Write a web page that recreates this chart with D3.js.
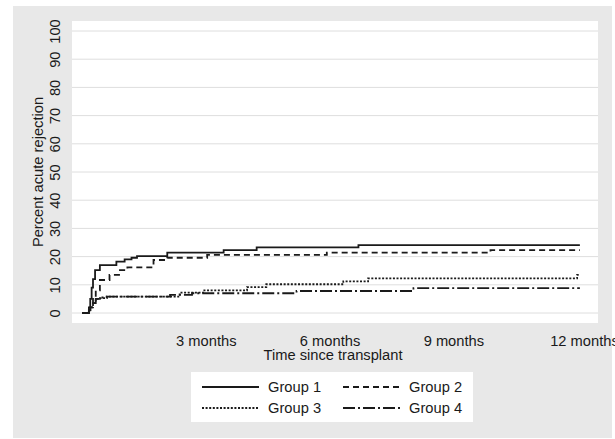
<!DOCTYPE html>
<html>
<head>
<meta charset="utf-8">
<script src="https://cdn.jsdelivr.net/npm/d3@7"></script>
<style>
  html, body { margin: 0; padding: 0; background: #ffffff; }
  svg { display: block; }
  text { font-family: "Liberation Sans", Arial, sans-serif; fill: #1a1a1a; }
</style>
</head>
<body>
<svg id="chart" width="615" height="439"></svg>
<script>
// ---- Data (days since transplant, percent with acute rejection) ----
const group1Days = [0, 5, 6, 7, 8, 9.5, 13, 25, 31, 36, 40, 62, 103, 127, 201, 362];
const group1Pct  = [0, 2, 5, 9, 12, 15.2, 17, 18.2, 19, 19.6, 20.2, 21.4, 22.3, 23.3, 24.1, 24.1];

const group2Days = [0, 6, 8, 10, 13, 20, 27.6, 33, 52, 62, 91, 178, 297, 362];
const group2Pct  = [0, 2, 5, 8, 11.7, 13.5, 15.2, 16.2, 18.8, 19.6, 20.6, 21.4, 22.3, 22.3];

const group3Days = [0, 5, 6, 8, 10, 13, 18, 71, 88, 120, 134, 190, 208, 360, 362];
const group3Pct  = [0, 1, 2, 3.5, 5, 5.3, 5.8, 7.2, 8.0, 9.2, 10.2, 11.2, 12.3, 13.5, 13.5];

const group4Days = [0, 5, 6, 8, 10, 13, 18, 64, 80, 156, 241, 362];
const group4Pct  = [0, 1, 2, 3.5, 5, 5.5, 5.8, 6.4, 7.0, 7.8, 8.8, 8.8];

const seriesNames = ["Group 1", "Group 2", "Group 3", "Group 4"];
const xTickDays   = [90, 180, 270, 365];
const xTickLabels = ["3 months", "6 months", "9 months", "12 months"];
const yTicks      = [0, 10, 20, 30, 40, 50, 60, 70, 80, 90, 100];

// ---- Styles ----
const dashes = [null, "6,4", "2,1.6", "12,3,2,3"];
const fontSize = 14.7;
const fontFam = '"Liberation Sans", Arial, sans-serif';

const svg = d3.select("#chart");

// outer graph region
svg.append("rect").attr("x", 13).attr("y", 6).attr("width", 599).attr("height", 432)
  .attr("fill", "#e8e8e8");

// plot region
const plot = { left: 72, right: 598, top: 21, bottom: 323 };
svg.append("rect").attr("x", plot.left).attr("y", plot.top)
  .attr("width", plot.right - plot.left).attr("height", plot.bottom - plot.top)
  .attr("fill", "#ffffff");

const x = d3.scaleLinear().domain([0, 365]).range([82, 584]);
const y = d3.scaleLinear().domain([0, 100]).range([313, 31]);

// gridlines
svg.append("g").selectAll("line").data(yTicks).join("line")
  .attr("x1", plot.left).attr("x2", plot.right)
  .attr("y1", d => y(d)).attr("y2", d => y(d))
  .attr("stroke", "#dedede").attr("stroke-width", 1);

// y axis labels (rotated)
const yAxis = d3.axisLeft(y).tickValues(yTicks).tickSize(0).tickPadding(0);
const yg = svg.append("g").attr("transform", "translate(60,0)").call(yAxis);
yg.select(".domain").remove();
yg.selectAll(".tick text")
  .attr("x", 0).attr("y", 0).attr("dy", 0)
  .attr("transform", "rotate(-90)")
  .attr("text-anchor", "middle")
  .style("font-size", fontSize + "px")
  .style("font-family", fontFam)
  .attr("fill", "#1a1a1a");

// y title
svg.append("text")
  .attr("transform", `translate(43,${(plot.top + plot.bottom) / 2}) rotate(-90)`)
  .attr("text-anchor", "middle")
  .style("font-size", fontSize + "px")
  .text("Percent acute rejection");

// x axis labels
const xAxis = d3.axisBottom(x).tickValues(xTickDays)
  .tickFormat((d, i) => xTickLabels[i]).tickSize(0).tickPadding(0);
const xg = svg.append("g").attr("transform", "translate(0,345.5)").call(xAxis);
xg.select(".domain").remove();
xg.selectAll(".tick text")
  .attr("dy", 0).attr("y", 0)
  .style("font-size", fontSize + "px")
  .style("font-family", fontFam)
  .attr("fill", "#1a1a1a");

// x title
svg.append("text")
  .attr("x", 333).attr("y", 360)
  .attr("text-anchor", "middle")
  .style("font-size", fontSize + "px")
  .text("Time since transplant");

// curves
const series = [
  d3.zip(group1Days, group1Pct),
  d3.zip(group2Days, group2Pct),
  d3.zip(group3Days, group3Pct),
  d3.zip(group4Days, group4Pct)
];
const line = d3.line().x(d => x(d[0])).y(d => y(d[1])).curve(d3.curveStepAfter);
svg.append("g").selectAll("path").data(series).join("path")
  .attr("d", line)
  .attr("fill", "none")
  .attr("stroke", "#1a1a1a")
  .attr("stroke-width", 1.8)
  .attr("stroke-dasharray", (d, i) => dashes[i]);

// legend
svg.append("rect").attr("x", 191).attr("y", 372).attr("width", 282).attr("height", 50)
  .attr("fill", "#ffffff");
const legPos = [
  { lx: 202, ly: 387 }, { lx: 343, ly: 387 },
  { lx: 202, ly: 408 }, { lx: 343, ly: 408 }
];
const leg = svg.append("g").selectAll("g").data(seriesNames).join("g");
leg.append("line")
  .attr("x1", (d, i) => legPos[i].lx)
  .attr("x2", (d, i) => legPos[i].lx + 57)
  .attr("y1", (d, i) => legPos[i].ly).attr("y2", (d, i) => legPos[i].ly)
  .attr("stroke", "#1a1a1a").attr("stroke-width", 1.8)
  .attr("stroke-dasharray", (d, i) => dashes[i]);
leg.append("text")
  .attr("x", (d, i) => legPos[i].lx + 66)
  .attr("y", (d, i) => legPos[i].ly + 5)
  .style("font-size", fontSize + "px")
  .text(d => d);
</script>
</body>
</html>
